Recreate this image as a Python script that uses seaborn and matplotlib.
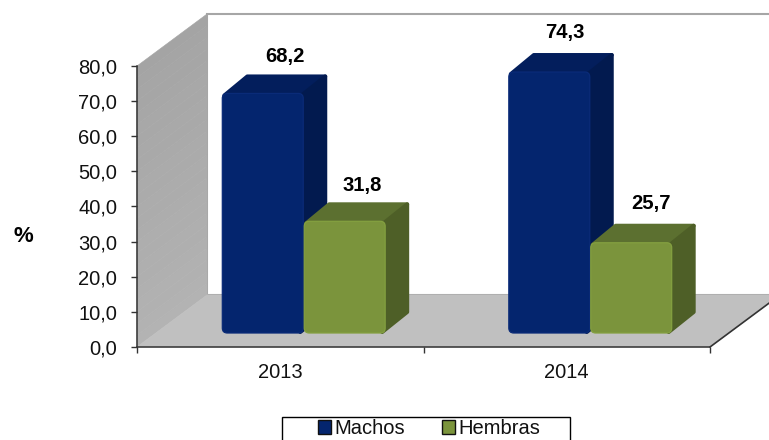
import matplotlib
matplotlib.use("Agg")
import matplotlib.pyplot as plt
from matplotlib.patches import Polygon, FancyBboxPatch, Rectangle
from matplotlib.transforms import ScaledTranslation, IdentityTransform
import numpy as np
import pandas as pd
import seaborn as sns

years = ["2013", "2014"]
machos = [68.2, 74.3]
hembras = [31.8, 25.7]
series_names = ["Machos", "Hembras"]
front_colors = ["#04256E", "#7B943C"]
edge_colors = ["#0A2B78", "#84A040"]
top_colors = ["#031E5C", "#5C7030"]
side_colors = ["#021A4F", "#4E5F27"]
y_ticks = [0, 10, 20, 30, 40, 50, 60, 70, 80]

W, H, DPI = 769, 440, 100
sns.set_theme(style="white")
plt.rcParams["font.family"] = ["Liberation Sans", "DejaVu Sans"]
px = IdentityTransform()

df = pd.DataFrame({
    "year": years * 2,
    "sex": [series_names[0]] * 2 + [series_names[1]] * 2,
    "pct": machos + hembras,
})

fig = plt.figure(figsize=(W / DPI, H / DPI), dpi=DPI)
ax = fig.add_axes([137 / W, (H - 347) / H, 573 / W, 281 / H])
sns.barplot(data=df, x="year", y="pct", hue="sex", ax=ax,
            palette=front_colors, saturation=1, width=0.572, gap=0, errorbar=None)
handles, labels = ax.get_legend_handles_labels()
ax.get_legend().remove()

ax.set_xlim(-0.5, 1.5)
ax.set_ylim(0, 80)
ax.patch.set_alpha(0)

# Room box: depth of the 3-D frame in pixels
DX, DY = 70, 52
x0, x1 = ax.get_xlim()
y0, y1 = ax.get_ylim()
base = ax.transData


def room_poly(pts, **kw):
    xy = [base.transform((x, y)) + (dx, dy) for x, y, dx, dy in pts]
    p = Polygon(xy, closed=True, transform=px, **kw)
    fig.add_artist(p)
    return p


room_poly([(x0, y1, DX, DY), (x1, y1, DX, DY), (x1, y0, DX, DY), (x0, y0, DX, DY)],
          facecolor="white", edgecolor="#A6A6A6", lw=1.5, zorder=-3)
# left wall: slices shading from darker at the top to lighter at the bottom
n_slices = 24
levels = np.linspace(y0, y1, n_slices + 1)
shades = np.linspace(0.70, 0.645, n_slices)
for k in range(n_slices):
    g = str(round(float(shades[k]), 3))
    room_poly([(x0, levels[k], 0, 0), (x0, levels[k], DX, DY),
               (x0, levels[k + 1], DX, DY), (x0, levels[k + 1], 0, 0)],
              facecolor=g, edgecolor=g, lw=0.4, zorder=-2)
room_poly([(x0, y0, 0, 0), (x0, y0, DX, DY), (x1, y0, DX, DY), (x1, y0, 0, 0)],
          facecolor="#C0C0C0", edgecolor="#C0C0C0", lw=0.5, zorder=-2)
corner = base.transform((x1, y0))
fig.add_artist(plt.Line2D([corner[0], corner[0] + DX], [corner[1], corner[1] + DY],
                          transform=px, color="#333333", lw=1.2, zorder=-1))

# Bars: offset from the front plane, with top and side faces
OX, OY = 23, 14
BX, BY = 24, 19
INSET = 2
to_px = base + ScaledTranslation(OX / DPI, OY / DPI, fig.dpi_scale_trans)
label_offsets = [[(23, 37), (18, 36)], [(16, 40), (20, 39)]]
for s, cont in enumerate(ax.containers):
    for b, bar in enumerate(cont):
        bx, bw, bh = bar.get_x(), bar.get_width(), bar.get_height()
        l, r = bx, bx + bw
        A = to_px.transform((l, bh))
        B = to_px.transform((r, bh))
        C = to_px.transform((r, 0))
        D = to_px.transform((l, 0))
        z = 3 + s * 2
        i = INSET
        top_face = Polygon([A + (i + 1, -2), A + (BX + i, BY - i), B + (BX - i, BY - i), B + (-i, -2)],
                           transform=px, facecolor=top_colors[s], edgecolor=top_colors[s],
                           lw=2.88, joinstyle="round", clip_on=False, zorder=z)
        side_face = Polygon([B + (-3, -3), B + (BX - i, BY - i), C + (BX - i, BY + i), C + (-3, 1)],
                            transform=px, facecolor=side_colors[s], edgecolor=side_colors[s],
                            lw=2.88, joinstyle="round", clip_on=False, zorder=z)
        ax.add_artist(top_face)
        ax.add_artist(side_face)
        rounded = FancyBboxPatch(D + (1, 0), (C - D)[0] - 1, (A - D)[1],
                                 boxstyle="round,pad=0,rounding_size=5",
                                 transform=px, facecolor="none", edgecolor=edge_colors[s],
                                 lw=0.9, clip_on=False, zorder=z + 0.7)
        ax.add_artist(rounded)
        bar.set_transform(to_px)
        bar.set_linewidth(0)
        bar.set_zorder(z + 0.5)
        bar.set_clip_on(True)
        bar.set_clip_path(rounded.get_path(), rounded.get_transform())
        lx, ly = label_offsets[b][s]
        ax.annotate(f"{bh:.1f}".replace(".", ","), xy=((l + r) / 2, bh), xycoords=to_px,
                    xytext=(lx * 72 / DPI, ly * 72 / DPI), textcoords="offset points",
                    ha="center", va="center", fontsize=14.6, fontweight="bold",
                    color="black", zorder=10, annotation_clip=False)

# Axes styling
sns.despine(ax=ax)
for name in ("left", "bottom"):
    ax.spines[name].set_color("#333333")
    ax.spines[name].set_linewidth(1.1)
ax.set_yticks(y_ticks)
ax.set_yticklabels([f"{v:.1f}".replace(".", ",") for v in y_ticks], fontsize=14.5, color="#111111")
ax.set_xticks([0, 1])
ax.set_xticklabels(years, fontsize=14.5, color="#111111")
ax.set_xticks([-0.5, 0.5, 1.5], minor=True)
ax.tick_params(axis="x", which="major", length=0, pad=11.5)
ax.tick_params(axis="x", which="minor", length=4.3, width=1, color="#333333", bottom=True)
ax.tick_params(axis="y", length=4.3, width=1, color="#333333", pad=10, left=True)
ax.set_xlabel("")
ax.set_ylabel("%", rotation=0, fontsize=16, fontweight="bold", color="black")
ax.yaxis.set_label_coords((23 - 137) / 573, (347 - 237) / 281)
ax.yaxis.label.set_va("center")
ax.yaxis.label.set_ha("center")

# Legend: box runs off the bottom of the figure
fig.add_artist(Rectangle((282, H - 417 - 40), 288, 40, transform=px, facecolor="white",
                         edgecolor="black", lw=1, zorder=1))
leg = fig.legend(handles, labels, loc="upper left",
                 bbox_to_anchor=(318 / W, (H - 419) / H),
                 ncols=2, fontsize=14.5, frameon=False, borderaxespad=0, borderpad=0,
                 handlelength=0.65, handleheight=0.65, handletextpad=0.15, columnspacing=1.85,
                 labelcolor="#111111")
leg.set_zorder(2)
for h in leg.legend_handles:
    h.set_edgecolor("#111111")
    h.set_linewidth(1)

fig.savefig("out.png", dpi=DPI)
